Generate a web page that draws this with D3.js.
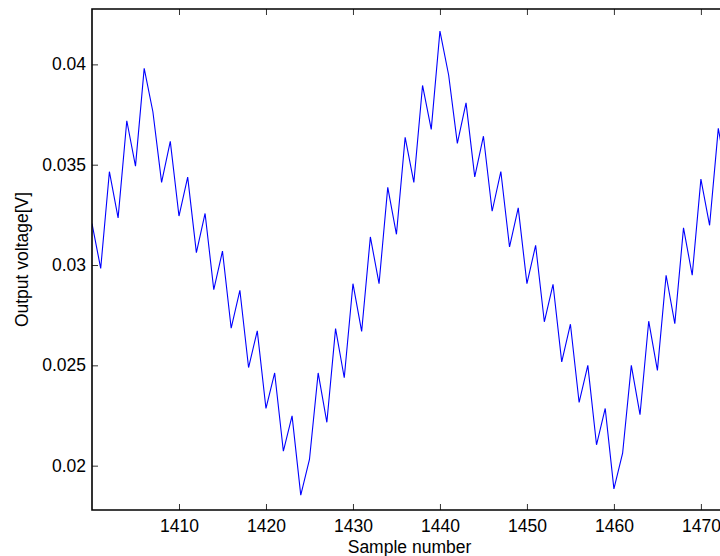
<html>
    <head>
        <style>
            body { margin: 0; background: #fff; }
            text { font-family: "Liberation Sans", Arial, Helvetica, sans-serif; }
        </style>
    </head>
    <body>

        <svg id="chart"></svg>

        <script src="https://cdn.jsdelivr.net/npm/d3@7"></script>
        <script>

            // sample numbers and measured output voltage (V)
            let samples = [1400, 1401, 1402, 1403, 1404, 1405, 1406, 1407, 1408, 1409,
                           1410, 1411, 1412, 1413, 1414, 1415, 1416, 1417, 1418, 1419,
                           1420, 1421, 1422, 1423, 1424, 1425, 1426, 1427, 1428, 1429,
                           1430, 1431, 1432, 1433, 1434, 1435, 1436, 1437, 1438, 1439,
                           1440, 1441, 1442, 1443, 1444, 1445, 1446, 1447, 1448, 1449,
                           1450, 1451, 1452, 1453, 1454, 1455, 1456, 1457, 1458, 1459,
                           1460, 1461, 1462, 1463, 1464, 1465, 1466, 1467, 1468, 1469,
                           1470, 1471, 1472, 1473];

            let voltage = [0.03207, 0.02983, 0.03465, 0.03235, 0.03719, 0.03493, 0.0398, 0.03764, 0.03412, 0.03616,
                           0.03244, 0.03438, 0.03062, 0.03257, 0.02877, 0.03069, 0.02685, 0.02874, 0.02489, 0.02672,
                           0.02285, 0.02462, 0.02072, 0.02248, 0.01853, 0.02031, 0.02462, 0.02216, 0.02683, 0.02438,
                           0.02907, 0.02669, 0.0314, 0.02907, 0.03387, 0.03153, 0.03636, 0.03412, 0.03895, 0.03676,
                           0.04166, 0.03947, 0.03606, 0.03808, 0.03439, 0.03642, 0.03268, 0.03466, 0.0309, 0.03285,
                           0.02907, 0.03098, 0.02717, 0.02904, 0.02517, 0.02705, 0.02315, 0.025, 0.02104, 0.02285,
                           0.01884, 0.02062, 0.025, 0.02254, 0.0272, 0.02475, 0.02949, 0.02708, 0.03185, 0.02949,
                           0.03428, 0.03198, 0.03681, 0.0344];

            let xTicks = [1410, 1420, 1430, 1440, 1450, 1460, 1470];
            let yTicks = [0.02, 0.025, 0.03, 0.035, 0.04];
            let yTickLabels = ["0.02", "0.025", "0.03", "0.035", "0.04"];

            let width = 720;
            let height = 556;
            let plotLeft = 92, plotRight = 727, plotTop = 9, plotBottom = 510;

            let svg = d3.select("#chart").attr("width", width).attr("height", height);

            let x = d3.scaleLinear().domain([1400, 1473]).range([plotLeft, plotRight]);
            let y = d3.scaleLinear().domain([0.01779, 0.04276]).range([plotBottom, plotTop]);

            svg.append("defs").append("clipPath").attr("id", "plotClip")
                .append("rect")
                .attr("x", plotLeft).attr("y", plotTop)
                .attr("width", plotRight - plotLeft).attr("height", plotBottom - plotTop);

            // the voltage trace
            let line = d3.line()
                        .x((d, i) => x(samples[i]))
                        .y(d => y(d));

            svg.append("path")
                .datum(voltage)
                .attr("clip-path", "url(#plotClip)")
                .attr("fill", "none")
                .attr("stroke", "#0000ff")
                .attr("stroke-width", 1.1)
                .attr("d", line);

            // axes with inward ticks, matlab style
            let xAxis = d3.axisBottom(x).tickValues(xTicks).tickFormat(d3.format("d"))
                            .tickSizeInner(-6).tickSizeOuter(0).tickPadding(10);
            let xTop = d3.axisTop(x).tickValues(xTicks).tickFormat("")
                            .tickSizeInner(-6).tickSizeOuter(0);
            let yAxis = d3.axisLeft(y).tickValues(yTicks).tickFormat((d, i) => yTickLabels[i])
                            .tickSizeInner(-6).tickSizeOuter(0).tickPadding(6);

            let gx = svg.append("g").attr("transform", `translate(0,${plotBottom})`).call(xAxis);
            let gt = svg.append("g").attr("transform", `translate(0,${plotTop})`).call(xTop);
            let gy = svg.append("g").attr("transform", `translate(${plotLeft},0)`).call(yAxis);

            [gx, gt, gy].forEach(g => {
                g.select(".domain").remove();
                g.selectAll(".tick line").attr("stroke", "#333").attr("stroke-width", 1);
                g.selectAll(".tick text")
                    .attr("fill", "#000")
                    .style("font-size", "17.5px")
                    .style("font-family", "'Liberation Sans', Arial, sans-serif");
            });

            // box lines (right side falls outside the picture)
            svg.append("path")
                .attr("fill", "none")
                .attr("stroke", "#000")
                .attr("stroke-width", 1.6)
                .attr("d", `M${plotRight},${plotTop}H${plotLeft}V${plotBottom}H${plotRight}`);

            svg.append("text")
                .attr("x", (plotLeft + plotRight) / 2)
                .attr("y", 553)
                .attr("text-anchor", "middle")
                .style("font-size", "17.5px")
                .text("Sample number");

            svg.append("text")
                .attr("transform", `translate(28,${(plotTop + plotBottom) / 2}) rotate(-90)`)
                .attr("text-anchor", "middle")
                .style("font-size", "17.5px")
                .text("Output voltage[V]");

        </script>
    </body>
</html>
